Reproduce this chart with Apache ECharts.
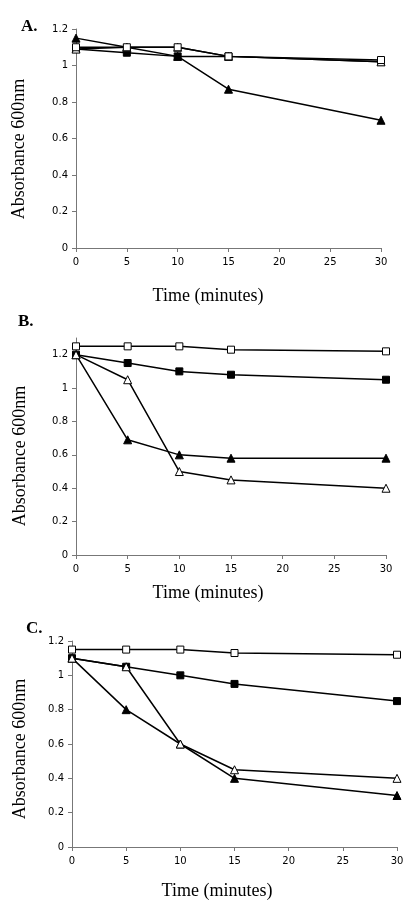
<!DOCTYPE html>
<html><head><meta charset="utf-8">
<script src="https://cdn.jsdelivr.net/npm/echarts@6/dist/echarts.min.js"></script>
<style>html,body{margin:0;padding:0;background:#fff}#c{width:414px;height:915px}</style>
</head><body><div id="c"></div>
<script>
const times = [0, 5, 10, 15, 30];
const xTicks = [0, 5, 10, 15, 20, 25, 30];
const yTicks = [0, 0.2, 0.4, 0.6, 0.8, 1, 1.2];
// Panel A
const aFilledTriangle = [1.15, 1.10, 1.05, 0.87, 0.70];
const aFilledSquare   = [1.09, 1.07, 1.05, 1.05, 1.02];
const aOpenTriangle   = [1.09, 1.10, 1.10, 1.05, 1.02];
const aOpenSquare     = [1.10, 1.10, 1.10, 1.05, 1.03];
// Panel B
const bFilledTriangle = [1.20, 0.69, 0.60, 0.58, 0.58];
const bFilledSquare   = [1.20, 1.15, 1.10, 1.08, 1.05];
const bOpenTriangle   = [1.20, 1.05, 0.50, 0.45, 0.40];
const bOpenSquare     = [1.25, 1.25, 1.25, 1.23, 1.22];
// Panel C
const cFilledTriangle = [1.10, 0.80, 0.60, 0.40, 0.30];
const cFilledSquare   = [1.10, 1.05, 1.00, 0.95, 0.85];
const cOpenTriangle   = [1.10, 1.05, 0.60, 0.45, 0.40];
const cOpenSquare     = [1.15, 1.15, 1.15, 1.13, 1.12];

const panels = [
  {label:'A.', grid:{left:76, right:33, top:29, height:219}, yMax:1.2,
   data:[aFilledTriangle, aFilledSquare, aOpenTriangle, aOpenSquare],
   lab:{x:16, y:13}, yt:{x:19, y:149}, xt:{x:208, y:296}},
  {label:'B.', grid:{left:76, right:28, top:338, height:217}, yMax:1.3,
   data:[bFilledTriangle, bFilledSquare, bOpenTriangle, bOpenSquare],
   lab:{x:13, y:308}, yt:{x:20, y:456}, xt:{x:208, y:593}},
  {label:'C.', grid:{left:72, right:17, top:641, height:206}, yMax:1.2,
   data:[cFilledTriangle, cFilledSquare, cOpenTriangle, cOpenSquare],
   lab:{x:21, y:615}, yt:{x:20, y:749}, xt:{x:217, y:891}}
];
const styles = [
  {symbol:'triangle', size:8, fill:'#000'},
  {symbol:'rect', size:7, fill:'#000'},
  {symbol:'triangle', size:8, fill:'#fff'},
  {symbol:'rect', size:7, fill:'#fff'}
];
const names = ['filled triangle','filled square','open triangle','open square'];
const axisLine = {show:true, lineStyle:{color:'#777', width:1}};
const labelStyle = {color:'#000', fontSize:10, fontFamily:'DejaVu Sans, sans-serif'};
const serif = 'Liberation Serif, Times New Roman, serif';

const option = {
  animation:false,
  backgroundColor:'#fff',
  title: panels.map(p => ({text:p.label, left:p.lab.x, top:p.lab.y,
     textStyle:{fontFamily:serif, fontWeight:'bold', fontSize:17, color:'#000'}})),
  grid: panels.map(p => p.grid),
  xAxis: panels.map((p,i) => ({type:'value', gridIndex:i, min:0, max:30, interval:5,
     axisLine:axisLine, axisTick:{show:true, length:4, lineStyle:{color:'#777'}},
     splitLine:{show:false}, axisLabel:Object.assign({margin:9}, labelStyle)})),
  yAxis: panels.map((p,i) => ({type:'value', gridIndex:i, min:0, max:p.yMax, interval:0.2,
     axisLine:axisLine, axisTick:{show:true, length:4, lineStyle:{color:'#777'}},
     splitLine:{show:false},
     axisLabel:Object.assign({margin:8, showMaxLabel: p.yMax===1.2 ? true : false,
        formatter: v => (Math.round(v*10)/10).toString()}, labelStyle)})),
  graphic: panels.flatMap(p => [
    {type:'text', x:p.yt.x, y:p.yt.y, rotation:Math.PI/2,
     style:{text:'Absorbance 600nm', font:'18px '+serif, fill:'#000', textAlign:'center', textVerticalAlign:'middle'}},
    {type:'text', x:p.xt.x, y:p.xt.y,
     style:{text:'Time (minutes)', font:'18px '+serif, fill:'#000', textAlign:'center', textVerticalAlign:'middle'}}
  ]),
  series: panels.flatMap((p,i) => p.data.map((d,k) => ({
     type:'line', name:names[k], xAxisIndex:i, yAxisIndex:i,
     data: times.map((t,j) => [t, d[j]]),
     symbol:styles[k].symbol, symbolSize:styles[k].size, showAllSymbol:true,
     lineStyle:{color:'#000', width:1.5},
     itemStyle:{color:styles[k].fill, borderColor:'#000', borderWidth:1},
     z: 2 + k
  })))
};
const chart = echarts.init(document.getElementById('c'), null, {renderer:'canvas'});
chart.setOption(option);
</script></body></html>
